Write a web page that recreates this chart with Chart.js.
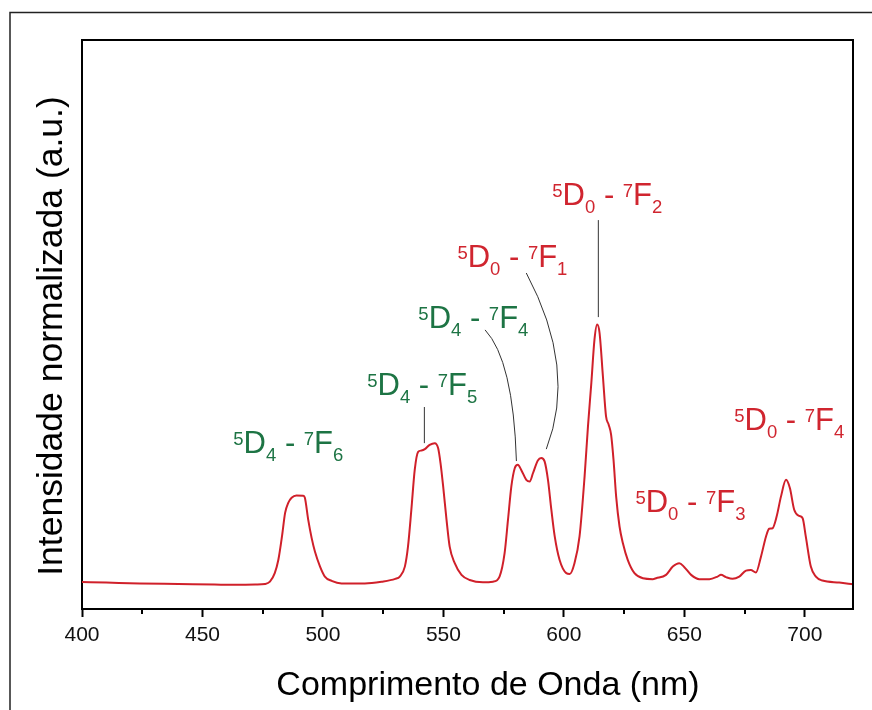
<!DOCTYPE html>
<html>
<head>
<meta charset="utf-8">
<script src="https://cdn.jsdelivr.net/npm/chart.js@4.4.1/dist/chart.umd.min.js"></script>
<style>
  html, body { margin: 0; padding: 0; background: #fff; }
  canvas { display: block; }
</style>
</head>
<body>
<canvas id="spectrum" width="872" height="710"></canvas>
<script>
// Emission spectrum: wavelength (nm) and normalized intensity (a.u.)
const wavelength = [
  400, 410, 424, 440, 455, 465, 472, 476, 478, 480, 481.5, 483, 484.3, 485.6, 487, 489, 491.8, 492.5,
  493.9, 495.3, 496.7, 498.8, 500.8, 503.6, 507.7, 517.4, 524.3, 530, 531.9, 534, 535.3, 536.7, 538.1,
  539.5, 540.9, 542.3, 544.3, 546.4, 547.8, 548.8, 549.9, 551.3, 552.6, 554.7, 557.5, 560.9, 566.4,
  570.6, 573.3, 575.4, 576.8, 578.2, 579.6, 580.9, 582.3, 584.4, 585.8, 587.2, 589.2, 590.6, 592,
  593.4, 594.8, 596.2, 598.2, 601, 602.4, 604.4, 606.5, 608.6, 610, 611.4, 612.7, 613.8, 614.8, 616.2,
  617.5, 618.6, 619.6, 620.6, 621.7, 623.1, 624.5, 626.5, 629.3, 632.8, 636.9, 638.3, 642.4, 645.2,
  647.9, 650, 652.8, 656.2, 660.4, 663.8, 665.2, 667.3, 670, 672.8, 675.6, 677.6, 679.7, 681.8, 683.9,
  685.2, 686.6, 688.3, 690.1, 692.2, 693.8, 695.6, 697.7, 699.1, 700.4, 702.5, 704.6, 707.3, 714.3, 720
];
const intensity = [
  0.095, 0.093, 0.090, 0.088, 0.086, 0.085, 0.086, 0.088, 0.096, 0.126, 0.173, 0.255, 0.338, 0.373, 0.391, 0.399, 0.398, 0.391,
  0.313, 0.250, 0.201, 0.149, 0.114, 0.099, 0.090, 0.090, 0.096, 0.106, 0.114, 0.149, 0.219, 0.349, 0.489,
  0.552, 0.557, 0.562, 0.577, 0.583, 0.566, 0.513, 0.431, 0.313, 0.219, 0.161, 0.120, 0.102, 0.094,
  0.096, 0.114, 0.196, 0.313, 0.431, 0.495, 0.507, 0.489, 0.454, 0.448, 0.478, 0.522, 0.531, 0.519,
  0.454, 0.349, 0.255, 0.173, 0.126, 0.123, 0.161, 0.255, 0.466, 0.642, 0.795, 0.947, 1.000, 0.971, 0.818,
  0.677, 0.648, 0.613, 0.525, 0.395, 0.290, 0.231, 0.173, 0.126, 0.108, 0.105, 0.108, 0.120, 0.149,
  0.161, 0.147, 0.120, 0.105, 0.105, 0.114, 0.120, 0.112, 0.106, 0.114, 0.135, 0.137, 0.128, 0.184, 0.255,
  0.282, 0.284, 0.325, 0.395, 0.454, 0.425, 0.349, 0.327, 0.319, 0.255, 0.149, 0.114, 0.100, 0.093, 0.087
];

// Axis ticks
const majorTicks = [400, 450, 500, 550, 600, 650, 700];
const minorTicks = [425, 475, 525, 575, 625, 675];

// Transition labels: [upper multiplet, lower multiplet], each as [sup, symbol, sub]
const transitionTerms = [
  [['5', 'D', '4'], ['7', 'F', '6']],
  [['5', 'D', '4'], ['7', 'F', '5']],
  [['5', 'D', '4'], ['7', 'F', '4']],
  [['5', 'D', '0'], ['7', 'F', '1']],
  [['5', 'D', '0'], ['7', 'F', '2']],
  [['5', 'D', '0'], ['7', 'F', '3']],
  [['5', 'D', '0'], ['7', 'F', '4']]
];

const xTitle = 'Comprimento de Onda (nm)';
const yTitle = 'Intensidade normalizada (a.u.)';

// Layout of the annotations, in axis units
const labelAnchors = [
  { x: 462.8, y: 0.548, color: '#1d7444' },
  { x: 518.4, y: 0.752, color: '#1d7444' },
  { x: 539.6, y: 0.988, color: '#1d7444' },
  { x: 555.8, y: 1.202, color: '#d0252f' },
  { x: 595.2, y: 1.420, color: '#d0252f' },
  { x: 629.7, y: 0.341, color: '#d0252f' },
  { x: 670.7, y: 0.629, color: '#d0252f' }
];
const leaderLines = [
  { from: [542.1, 0.710], to: [542.1, 0.583] },
  { from: [614.3, 1.367], to: [614.3, 1.026] },
  { from: [567.3, 0.981], ctrl: [579.0, 0.875], to: [580.3, 0.520] },
  { from: [584.4, 1.181], ctrl: [605.6, 0.844], to: [592.7, 0.562] }
];

const FONT = '"Liberation Sans", Arial, Helvetica, sans-serif';

function drawTerm(ctx, x, y, term, big, small) {
  const [sup, sym, sub] = term;
  ctx.font = small + 'px ' + FONT;
  ctx.fillText(sup, x, y - 8);
  x += ctx.measureText(sup).width;
  ctx.font = big + 'px ' + FONT;
  ctx.fillText(sym, x, y);
  x += ctx.measureText(sym).width;
  ctx.font = small + 'px ' + FONT;
  ctx.fillText(sub, x, y + 8);
  x += ctx.measureText(sub).width;
  return x;
}

const decorations = {
  id: 'decorations',
  beforeDraw(chart) {
    const ctx = chart.ctx;
    ctx.save();
    ctx.fillStyle = '#ffffff';
    ctx.fillRect(0, 0, chart.width, chart.height);
    ctx.restore();
  },
  afterDraw(chart) {
    const { ctx, chartArea: a, scales: { x, y } } = chart;
    ctx.save();

    // closing the frame on top and right
    ctx.strokeStyle = '#000';
    ctx.lineWidth = 2;
    ctx.beginPath();
    ctx.moveTo(a.left - 1, a.top);
    ctx.lineTo(a.right, a.top);
    ctx.lineTo(a.right, a.bottom + 1);
    ctx.stroke();

    // minor ticks
    ctx.lineWidth = 2;
    minorTicks.forEach(v => {
      const px = Math.round(x.getPixelForValue(v));
      ctx.beginPath();
      ctx.moveTo(px, a.bottom);
      ctx.lineTo(px, a.bottom + 5);
      ctx.stroke();
    });

    // leader lines from labels to peaks
    ctx.strokeStyle = '#333';
    ctx.lineWidth = 1;
    leaderLines.forEach(l => {
      ctx.beginPath();
      ctx.moveTo(x.getPixelForValue(l.from[0]), y.getPixelForValue(l.from[1]));
      if (l.ctrl) {
        ctx.quadraticCurveTo(
          x.getPixelForValue(l.ctrl[0]), y.getPixelForValue(l.ctrl[1]),
          x.getPixelForValue(l.to[0]), y.getPixelForValue(l.to[1]));
      } else {
        ctx.lineTo(x.getPixelForValue(l.to[0]), y.getPixelForValue(l.to[1]));
      }
      ctx.stroke();
    });

    // transition labels
    ctx.textBaseline = 'alphabetic';
    ctx.textAlign = 'left';
    transitionTerms.forEach((t, i) => {
      const p = labelAnchors[i];
      ctx.fillStyle = p.color;
      let px = x.getPixelForValue(p.x);
      const py = y.getPixelForValue(p.y);
      px = drawTerm(ctx, px, py, t[0], 31, 18.5);
      ctx.font = '31px ' + FONT;
      ctx.fillText(' - ', px, py);
      px += ctx.measureText(' - ').width;
      drawTerm(ctx, px, py, t[1], 31, 18.5);
    });

    // axis titles
    ctx.fillStyle = '#000';
    ctx.font = '34px ' + FONT;
    ctx.textAlign = 'center';
    ctx.fillText(xTitle, 488, 695);
    ctx.save();
    ctx.font = '35.5px ' + FONT;
    ctx.translate(62, 336);
    ctx.rotate(-Math.PI / 2);
    ctx.fillText(yTitle, 0, 0);
    ctx.restore();

    // outer frame
    ctx.strokeStyle = '#222';
    ctx.lineWidth = 1.5;
    ctx.beginPath();
    ctx.moveTo(10, chart.height);
    ctx.lineTo(10, 12.5);
    ctx.lineTo(chart.width, 12.5);
    ctx.stroke();

    ctx.restore();
  }
};

new Chart(document.getElementById('spectrum'), {
  type: 'line',
  data: {
    datasets: [{
      data: wavelength.map((w, i) => ({ x: w, y: intensity[i] })),
      borderColor: '#d0202a',
      borderWidth: 2,
      pointRadius: 0,
      fill: false,
      cubicInterpolationMode: 'monotone'
    }]
  },
  options: {
    responsive: false,
    devicePixelRatio: 1,
    animation: false,
    events: [],
    layout: { padding: { top: 40, right: 19, left: 0, bottom: 0 } },
    plugins: { legend: { display: false }, tooltip: { enabled: false } },
    scales: {
      x: {
        type: 'linear',
        min: 400,
        max: 720,
        afterBuildTicks: s => { s.ticks = majorTicks.map(v => ({ value: v })); },
        afterFit: s => { s.height = 101; },
        grid: { drawOnChartArea: false, tickLength: 8, tickWidth: 2, tickColor: '#000' },
        border: { display: true, color: '#000', width: 2 },
        ticks: { color: '#111', padding: 6, maxRotation: 0, font: { family: FONT, size: 21 } }
      },
      y: {
        min: 0,
        max: 2,
        afterFit: s => { s.width = 82; },
        grid: { drawOnChartArea: false, drawTicks: false },
        border: { display: true, color: '#000', width: 2 },
        ticks: { display: false }
      }
    }
  },
  plugins: [decorations]
});
</script>
</body>
</html>
